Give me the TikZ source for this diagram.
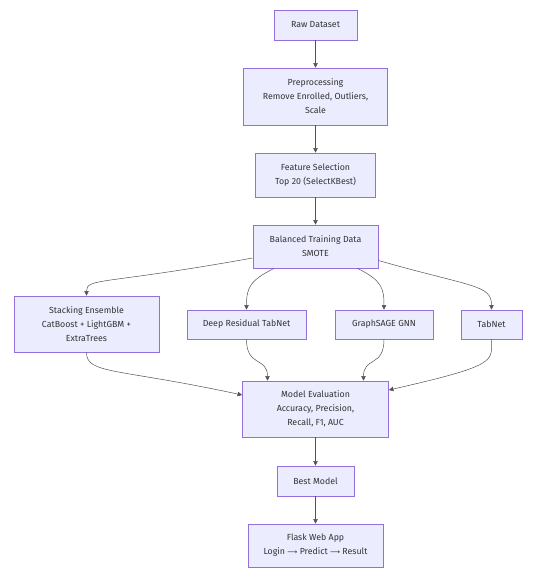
\documentclass[tikz,border=0pt]{standalone}
\usepackage{fontspec}
\setmainfont{Fira Sans}
\newfontfamily\arrowfont{DejaVu Sans}
\usetikzlibrary{arrows.meta, positioning, calc}

\definecolor{boxfill}{HTML}{ECECFF}
\definecolor{boxline}{HTML}{9370DB}
\definecolor{edgeline}{HTML}{333333}

\begin{document}
\begin{tikzpicture}[x=1pt, y=1pt,
  stage/.style={draw=boxline, fill=boxfill, line width=0.8pt, align=center,
    inner sep=0pt, text=edgeline, font=\fontsize{8.8}{14}\selectfont},
  flow/.style={draw=edgeline!85, line width=0.5pt,
    -{Triangle[length=4.5pt, width=4.5pt]}}]
  \useasboundingbox (0, 0) rectangle (542, 582);
  \node[stage, minimum width=83, minimum height=30] (raw) at (315.5, 557)
    {Raw Dataset};
  \node[stage, minimum width=144, minimum height=57] (prep) at (315.5, 485.5)
    {Preprocessing\\Remove Enrolled, Outliers,\\Scale};
  \node[stage, minimum width=120, minimum height=44] (feat) at (315.5, 407)
    {Feature Selection\\Top 20 (SelectKBest)};
  \node[stage, minimum width=125, minimum height=43] (bal) at (315.5, 335.5)
    {Balanced Training Data\\SMOTE};
  \node[stage, minimum width=145, minimum height=56] (stack) at (86.5, 258)
    {Stacking Ensemble\\CatBoost + LightGBM +\\ExtraTrees};
  \node[stage, minimum width=119, minimum height=29] (deep) at (246.5, 257.5)
    {Deep Residual TabNet};
  \node[stage, minimum width=98, minimum height=29] (gnn) at (384, 257.5)
    {GraphSAGE GNN};
  \node[stage, minimum width=61, minimum height=29] (tabnet) at (491.5, 257.5)
    {TabNet};
  \node[stage, minimum width=146, minimum height=56] (eval) at (315.5, 173)
    {Model Evaluation\\Accuracy, Precision,\\Recall, F1, AUC};
  \node[stage, minimum width=77, minimum height=30] (best) at (315.5, 101)
    {Best Model};
  \node[stage, minimum width=135, minimum height=43] (flask) at (315.5, 36.5)
    {Flask Web App\\Login {\arrowfont\fontsize{7}{14}\selectfont ⟶} Predict
     {\arrowfont\fontsize{7}{14}\selectfont ⟶} Result};
  \draw[flow] (raw) -- (prep);
  \draw[flow] (prep) -- (feat);
  \draw[flow] (feat) -- (bal);
  \draw[flow] ([yshift=-11.5]bal.west) .. controls +(-150, -27) and +(0, 18) .. (stack.north);
  \draw[flow] ([xshift=-41.5]bal.south) .. controls +(-24, -12) and +(0, 22) .. (deep.north);
  \draw[flow] ([xshift=42]bal.south) .. controls +(24, -12) and +(0, 22) .. (gnn.north);
  \draw[flow] ([yshift=-14]bal.east) .. controls +(95, -27) and +(0, 25) .. (tabnet.north);
  \draw[flow] (stack.south) .. controls +(0, -22) and +(-125, 27) .. ([yshift=14]eval.west);
  \draw[flow] (deep.south) .. controls +(0, -28) and +(0, 24) .. ([xshift=-48]eval.north);
  \draw[flow] (gnn.south) .. controls +(0, -28) and +(0, 24) .. ([xshift=48]eval.north);
  \draw[flow] (tabnet.south) .. controls +(0, -22) and +(110, 25) .. ([yshift=19]eval.east);
  \draw[flow] (eval) -- (best);
  \draw[flow] (best) -- (flask);
\end{tikzpicture}
\end{document}
